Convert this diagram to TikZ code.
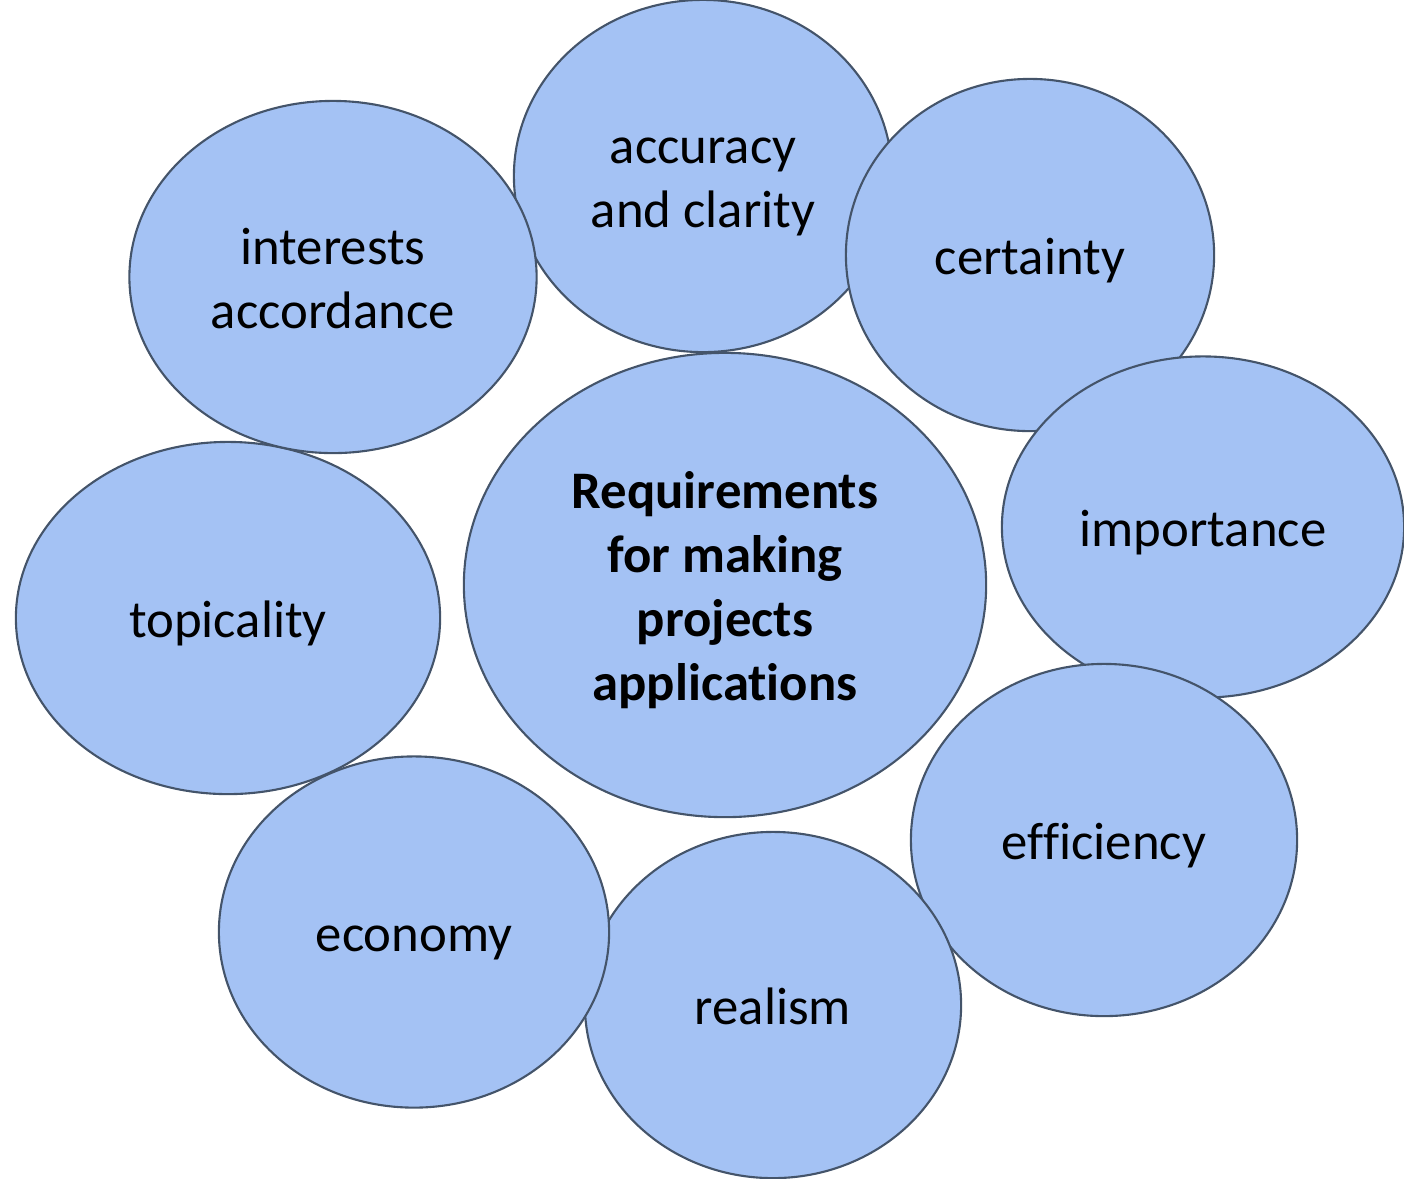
\documentclass[tikz,border=0pt]{standalone}
\usepackage{fontspec}
\setsansfont{Carlito}[Ligatures=NoCommon]
\usepackage{tikz}
\usetikzlibrary{shapes.geometric,positioning}

\definecolor{bubblefill}{HTML}{A4C2F4}
\definecolor{bubbleline}{HTML}{44546A}

\tikzset{
  bubble/.style = {shape = ellipse, draw = bubbleline, fill = bubblefill, line width = 0.6pt, inner sep = 0pt, align = center, font = \sffamily\fontsize{15}{18.2}\selectfont, text height = 16.3pt, text depth = 5pt},
  twolines/.style = {text height = 34.5pt},
  fourlines/.style = {text height = 70.9pt}
}

\begin{document}
\begin{tikzpicture}[x = 0.01cm, y = -0.01cm]
\useasboundingbox (0,0) rectangle (1404,1178);
\node[bubble, fourlines, minimum width = 5.22cm, minimum height = 4.64cm, font = \sffamily\bfseries\fontsize{15}{18.2}\selectfont] (req) at (725,585) {Requirements\\for making\\projects\\applications};
\node[bubble, twolines, minimum width = 3.78cm, minimum height = 3.52cm] (accuracy) at (703,176) {accuracy\\and clarity};
\node[bubble, minimum width = 3.68cm, minimum height = 3.52cm] (certainty) at (1030,255) {certainty};
\node[bubble, minimum width = 4.02cm, minimum height = 3.41cm] (importance) at (1203,527) {importance};
\node[bubble, minimum width = 3.86cm, minimum height = 3.52cm] (efficiency) at (1104,840) {efficiency};
\node[bubble, minimum width = 3.76cm, minimum height = 3.46cm] (realism) at (773,1005) {realism};
\node[bubble, minimum width = 3.90cm, minimum height = 3.51cm] (economy) at (414,932) {economy};
\node[bubble, minimum width = 4.24cm, minimum height = 3.52cm] (topicality) at (228,618) {topicality};
\node[bubble, twolines, minimum width = 4.07cm, minimum height = 3.52cm] (interests) at (333,277) {interests\\accordance};
\end{tikzpicture}
\end{document}
